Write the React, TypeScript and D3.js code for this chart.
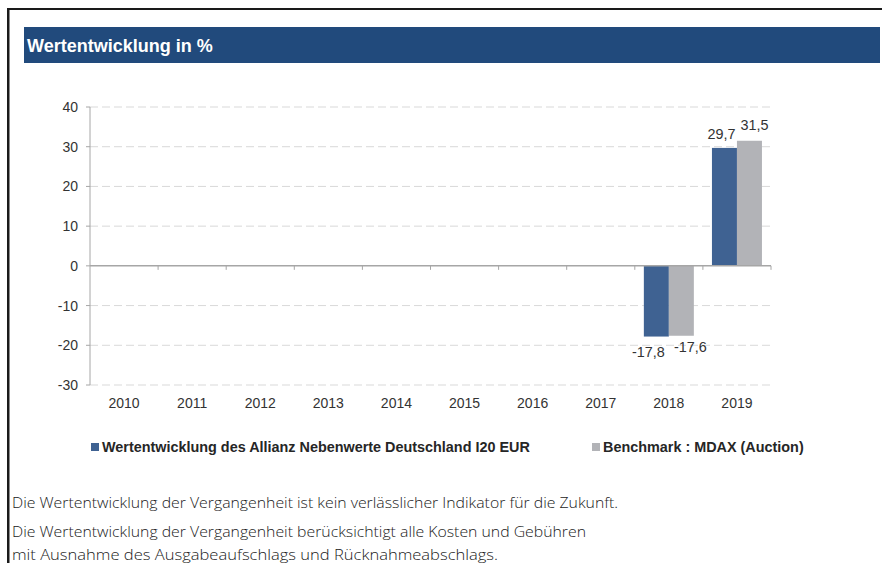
import React from "react";
import * as d3 from "d3";

const years = ["2010", "2011", "2012", "2013", "2014", "2015", "2016", "2017", "2018", "2019"];
const fundValues: (number | null)[] = [null, null, null, null, null, null, null, null, -17.8, 29.7];
const benchValues: (number | null)[] = [null, null, null, null, null, null, null, null, -17.6, 31.5];
const yTicks = [-30, -20, -10, 0, 10, 20, 30, 40];
const seriesKeys = ["fund", "bench"];
const seriesNames = [
  "Wertentwicklung des Allianz Nebenwerte Deutschland I20 EUR",
  "Benchmark : MDAX (Auction)",
];
const seriesColors = ["#3f6292", "#b2b3b7"];
const title = "Wertentwicklung in %";
const footerLines = [
  "Die Wertentwicklung der Vergangenheit ist kein verlässlicher Indikator für die Zukunft.",
  "Die Wertentwicklung der Vergangenheit berücksichtigt alle Kosten und Gebühren",
  "mit Ausnahme des Ausgabeaufschlags und Rücknahmeabschlags.",
];

const W = 882;
const H = 563;
const plot = { left: 90, right: 771, top: 107, bottom: 385 };
const font = "'Liberation Sans', Arial, Helvetica, sans-serif";

export default function App() {
  const y = d3.scaleLinear().domain([-30, 40]).range([plot.bottom, plot.top]);
  const x = d3.scaleBand().domain(years).range([plot.left, plot.right]).paddingInner(0).paddingOuter(0);
  const x1 = d3
    .scaleBand()
    .domain(seriesKeys)
    .range([0, x.bandwidth()])
    .paddingInner(0)
    .paddingOuter(0.362);
  const fmt = (v: number) => d3.format(".1f")(v).replace(".", ",").replace("\u2212", "-");
  const series = [fundValues, benchValues];
  // label offsets (style only)
  const labelDx = [[-8, 9], [-3, 5]]; // [neg][series], [pos][series]
  const labelDy = [[20.5, 16], [-9, -10.5]];

  const bars: React.ReactNode[] = [];
  const labels: React.ReactNode[] = [];
  years.forEach((yr, i) => {
    series.forEach((vals, s) => {
      const v = vals[i];
      if (v == null) return;
      const bx = (x(yr) as number) + (x1(seriesKeys[s]) as number);
      const bw = x1.bandwidth();
      const y0 = y(0);
      const yv = y(v);
      bars.push(
        <rect
          key={`b-${yr}-${s}`}
          x={bx}
          y={Math.min(y0, yv)}
          width={bw}
          height={Math.abs(yv - y0)}
          fill={seriesColors[s]}
        />
      );
      const pos = v >= 0 ? 1 : 0;
      labels.push(
        <text
          key={`l-${yr}-${s}`}
          x={bx + bw / 2 + labelDx[pos][s]}
          y={yv + labelDy[pos][s]}
          textAnchor="middle"
          fontSize={14.4}
          fill="#333333"
          fontFamily={font}
        >
          {fmt(v)}
        </text>
      );
    });
  });

  const boundaries = years.map((yr) => (x(yr) as number) + x.bandwidth());

  return (
    <svg
      width={W}
      height={H}
      style={{ position: "absolute", left: 0, top: 0, display: "block", background: "#fff" }}
    >
      <rect x={0} y={0} width={W} height={H} fill="#ffffff" />
      {/* frame */}
      <rect x={7} y={8} width={W - 7} height={2} fill="#1a1a1a" />
      <rect x={7} y={8} width={2.5} height={H - 8} fill="#1a1a1a" />
      {/* header */}
      <rect x={24} y={27} width={856} height={36} fill="#214a7c" />
      <text x={27} y={52} fill="#ffffff" fontSize={18} fontWeight="bold" fontFamily={font}>
        {title}
      </text>

      {/* grid */}
      {yTicks
        .filter((t) => t !== 0)
        .map((t) => (
          <line
            key={`g${t}`}
            x1={plot.left}
            x2={plot.right}
            y1={y(t)}
            y2={y(t)}
            stroke="#d9d9d9"
            strokeWidth={1}
            strokeDasharray="8,4"
          />
        ))}
      {/* y axis */}
      <line x1={plot.left} x2={plot.left} y1={plot.top} y2={plot.bottom} stroke="#a6a6a6" />
      {yTicks.map((t) => (
        <g key={`yt${t}`}>
          <line x1={plot.left - 4} x2={plot.left} y1={y(t)} y2={y(t)} stroke="#a6a6a6" />
          <text
            x={78}
            y={y(t)}
            dy="0.36em"
            textAnchor="end"
            fontSize={14}
            fill="#333333"
            fontFamily={font}
          >
            {t}
          </text>
        </g>
      ))}

      {bars}

      {/* zero axis */}
      <line x1={plot.left} x2={plot.right} y1={y(0)} y2={y(0)} stroke="#a6a6a6" strokeWidth={1.5} />
      {boundaries.map((bx, i) => (
        <line key={`xt${i}`} x1={bx} x2={bx} y1={y(0)} y2={y(0) + 4} stroke="#a6a6a6" />
      ))}
      {years.map((yr) => (
        <text
          key={`xl${yr}`}
          x={(x(yr) as number) + x.bandwidth() / 2}
          y={408}
          textAnchor="middle"
          fontSize={14}
          fill="#333333"
          fontFamily={font}
        >
          {yr}
        </text>
      ))}

      {labels}

      {/* legend */}
      {seriesNames.map((name, s) => {
        const lx = [91, 592][s];
        return (
          <g key={`lg${s}`}>
            <rect x={lx} y={443} width={8} height={8} fill={seriesColors[s]} />
            <text
              x={lx + 11}
              y={452}
              fontSize={14.4}
              fontWeight="bold"
              fill="#262626"
              fontFamily={font}
            >
              {name}
            </text>
          </g>
        );
      })}

      {/* footer */}
      {footerLines.map((line, i) => (
        <text
          key={`f${i}`}
          x={12}
          y={[508, 537, 560][i]}
          fontSize={14}
          fontWeight={300}
          fill="#1a1a1a"
          fontFamily="'Open Sans', 'Noto Sans', sans-serif"
          textLength={[606, 574, 486][i]}
          lengthAdjust="spacingAndGlyphs"
        >
          {line}
        </text>
      ))}
    </svg>
  );
}
